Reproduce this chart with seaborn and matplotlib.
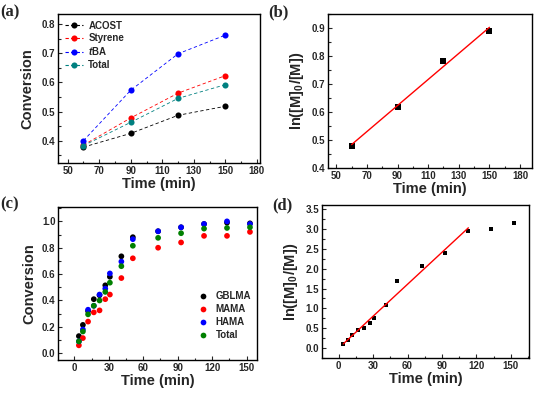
import numpy as np
import pandas as pd
import matplotlib
matplotlib.use("Agg")
import matplotlib.pyplot as plt
import seaborn as sns
from matplotlib.ticker import MultipleLocator, AutoMinorLocator, FixedLocator, FixedFormatter

sns.set_style("ticks")
plt.rcParams['font.family'] = ['Liberation Sans', 'DejaVu Sans']
plt.rcParams['font.weight'] = 'bold'
plt.rcParams['mathtext.fontset'] = 'custom'
plt.rcParams['mathtext.rm'] = 'Liberation Sans:bold'
plt.rcParams['mathtext.it'] = 'Liberation Sans:bold:italic'
plt.rcParams['mathtext.default'] = 'rm'

# (a) conversion vs time
time_a = [60, 90, 120, 150]
acost = [0.378, 0.425, 0.487, 0.518]
styrene = [0.385, 0.478, 0.563, 0.623]
tba = [0.400, 0.573, 0.698, 0.762]
total_a = [0.383, 0.463, 0.545, 0.592]
names_a = ['ACOST', 'Styrene', 'tBA', 'Total']
colors_a = ['black', '#ff0000', '#0000ff', '#008080']

# (b) kinetics
time_b = [60, 90, 120, 150]
lnm_b = [0.480, 0.618, 0.783, 0.891]

# top-row x ticks (the last label reads 180 in the original)
xticks_top = [50, 70, 90, 110, 130, 150, 170]
xticklabels_top = ['50', '70', '90', '110', '130', '150', '180']

# (c) conversion vs time
time_c = [4, 7.5, 12, 17, 22, 27, 31, 41, 51, 73, 93, 113, 133, 153]
gblma = [0.13, 0.215, 0.32, 0.41, 0.44, 0.515, 0.58, 0.735, 0.88, 0.925, 0.955, 0.98, 0.99, 0.985]
mama = [0.06, 0.115, 0.24, 0.31, 0.325, 0.41, 0.445, 0.57, 0.72, 0.80, 0.84, 0.89, 0.89, 0.92]
hama = [0.09, 0.18, 0.33, 0.36, 0.445, 0.49, 0.605, 0.695, 0.865, 0.925, 0.955, 0.98, 1.0, 0.98]
total_c = [0.09, 0.165, 0.295, 0.36, 0.40, 0.465, 0.535, 0.66, 0.815, 0.875, 0.91, 0.945, 0.95, 0.955]
names_c = ['GBLMA', 'MAMA', 'HAMA', 'Total']
colors_c = ['black', '#ff0000', '#0000ff', '#008000']

# (d) kinetics
time_d = [4, 8, 12, 17, 22, 27, 31, 41, 51, 73, 93, 113, 133, 153]
lnm_d = [0.10, 0.19, 0.34, 0.45, 0.50, 0.63, 0.75, 1.09, 1.69, 2.08, 2.40, 2.95, 3.00, 3.15]
n_fit_d = 12

df_a = pd.DataFrame({'Time': time_a * 4, 'Conversion': acost + styrene + tba + total_a,
                     'Monomer': sum([[n] * 4 for n in names_a], [])})
df_c = pd.DataFrame({'Time': time_c * 4, 'Conversion': gblma + mama + hama + total_c,
                     'Monomer': sum([[n] * len(time_c) for n in names_c], [])})
df_b = pd.DataFrame({'Time': time_b, 'ln': lnm_b})
df_d = pd.DataFrame({'Time': time_d, 'ln': lnm_d})

fig = plt.figure(figsize=(5.34, 3.95), dpi=100)
ax_a = fig.add_axes([0.109, 0.587, 0.378, 0.378])
ax_b = fig.add_axes([0.614, 0.575, 0.382, 0.390])
ax_c = fig.add_axes([0.109, 0.089, 0.372, 0.387])
ax_d = fig.add_axes([0.603, 0.094, 0.388, 0.387])

tick_fs = 7
label_fs = 10.5

# (a)
sns.lineplot(data=df_a, x='Time', y='Conversion', hue='Monomer', palette=colors_a,
             marker='o', markersize=4.4, markeredgewidth=0, linestyle='--', linewidth=0.6,
             dashes=False, ax=ax_a)
for l in ax_a.lines:
    l.set_linestyle((0, (4, 3)))
leg = ax_a.legend(loc='upper left', frameon=False, fontsize=7, handlelength=1.9,
                  handletextpad=0.5, borderaxespad=0.3, labelspacing=0.25)
for t in leg.get_texts():
    if t.get_text() == 'tBA':
        t.set_text('$\\mathit{t}$BA')
for h in leg.legend_handles:
    h.set_linestyle((0, (3, 2)))
    h.set_linewidth(0.8)
ax_a.set_xlim(44, 172)
ax_a.set_ylim(0.323, 0.835)
ax_a.yaxis.set_major_locator(MultipleLocator(0.1))
ax_a.set_ylabel('Conversion')

# (b)
sns.regplot(data=df_b, x='Time', y='ln', ci=None, scatter=False, color='#ff0000',
            line_kws={'linewidth': 1.0}, ax=ax_b)
sns.scatterplot(data=df_b, x='Time', y='ln', marker='s', color='black', s=14,
                linewidth=0, ax=ax_b)
ax_b.set_xlim(44.5, 177.7)
ax_b.set_ylim(0.4, 0.951)
ax_b.yaxis.set_major_locator(MultipleLocator(0.1))
ax_b.set_ylabel('ln([M]$_0$/[M])')

for ax in [ax_a, ax_b]:
    ax.xaxis.set_major_locator(FixedLocator(xticks_top))
    ax.xaxis.set_major_formatter(FixedFormatter(xticklabels_top))

# (c)
sns.scatterplot(data=df_c, x='Time', y='Conversion', hue='Monomer', palette=colors_c,
                s=17, linewidth=0, ax=ax_c)
ax_c.legend(loc='lower right', bbox_to_anchor=(1.0, 0.09), frameon=False, fontsize=7,
            handletextpad=0.3, markerscale=1.0, borderaxespad=0.2, labelspacing=0.32)
ax_c.set_xlim(-14, 159)
ax_c.set_ylim(-0.05, 1.109)
ax_c.xaxis.set_major_locator(MultipleLocator(30))
ax_c.yaxis.set_major_locator(MultipleLocator(0.2))
ax_c.set_ylabel('Conversion')

# (d)
sns.regplot(data=df_d.iloc[:n_fit_d], x='Time', y='ln', ci=None, scatter=False,
            color='#ff0000', line_kws={'linewidth': 1.0}, ax=ax_d)
sns.scatterplot(data=df_d, x='Time', y='ln', marker='s', color='black', s=7,
                linewidth=0, ax=ax_d)
ax_d.set_xlim(-14.5, 166)
ax_d.set_ylim(-0.25, 3.61)
ax_d.xaxis.set_major_locator(MultipleLocator(30))
ax_d.yaxis.set_major_locator(MultipleLocator(0.5))
ax_d.set_ylabel('ln([M]$_0$/[M])')

for ax in [ax_a, ax_b, ax_c, ax_d]:
    ax.set_xlabel('Time (min)', fontsize=label_fs, fontweight='bold', labelpad=1)
    ax.yaxis.label.set_fontsize(label_fs)
    ax.yaxis.label.set_fontweight('bold')
    ax.xaxis.set_minor_locator(AutoMinorLocator(2))
    ax.yaxis.set_minor_locator(AutoMinorLocator(2))
    ax.tick_params(which='both', direction='in', labelsize=tick_fs, width=0.8, pad=2)
    ax.tick_params(which='major', length=3)
    ax.tick_params(which='minor', length=1.8)
    for sp in ax.spines.values():
        sp.set_visible(True)
        sp.set_linewidth(1.0)
        sp.set_color('black')
    for t in ax.get_xticklabels() + ax.get_yticklabels():
        t.set_fontweight('bold')

ax_a.yaxis.labelpad = 5
ax_c.yaxis.labelpad = 4

for lab, x, y in [('(a)', 0.0, 0.988), ('(b)', 0.503, 0.988), ('(c)', 0.0, 0.503), ('(d)', 0.51, 0.5)]:
    fig.text(x, y, lab, fontsize=12, fontweight='bold', va='top',
             family=['Liberation Serif', 'DejaVu Serif'])

fig.savefig('out.png', dpi=100)
